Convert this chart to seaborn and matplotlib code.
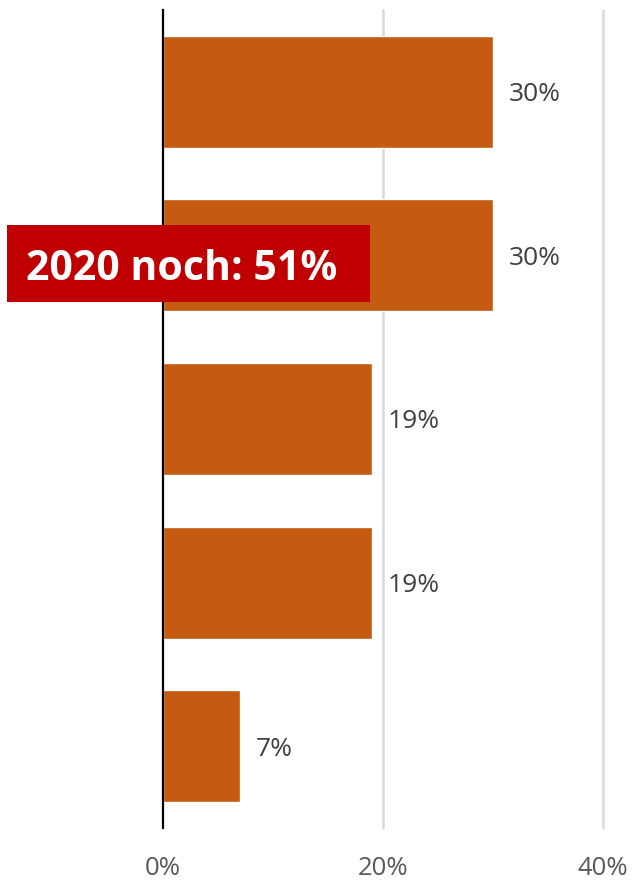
import matplotlib
matplotlib.use("Agg")
import matplotlib.pyplot as plt
import pandas as pd
import seaborn as sns
from matplotlib.patches import Rectangle

CATEGORIES = ["Kat 1", "Kat 2", "Kat 3", "Kat 4", "Kat 5"]
VALUES = [30, 30, 19, 19, 7]
LABELS = ["30%", "30%", "19%", "19%", "7%"]
X_TICKS = [0, 20, 40]
X_TICK_LABELS = ["0%", "20%", "40%"]
CALLOUT = "2020 noch: 51%"

BAR_COLOR = "#C55A11"
W, H = 634, 880

sns.set_theme(style="white")
plt.rcParams["font.family"] = ["Open Sans", "DejaVu Sans"]

data = pd.DataFrame({"cat": CATEGORIES, "value": VALUES})

fig = plt.figure(figsize=(W / 100, H / 100), dpi=100)
ax = fig.add_axes([163 / W, 1 - 828 / H, (603 - 163) / W, (828 - 10) / H])

sns.barplot(data=data, x="value", y="cat", orient="h", color=BAR_COLOR,
            saturation=1, width=0.685, ax=ax)

ax.set_xlim(0, 40)
ax.set_ylim(4.5, -0.5)
ax.set_xticks(X_TICKS)
ax.set_xticklabels(X_TICK_LABELS, fontsize=18.5, color="#595959")
ax.tick_params(axis="x", length=0, pad=20)
ax.set_yticks([])
ax.set_xlabel("")
ax.set_ylabel("")
for s in ["top", "right", "bottom"]:
    ax.spines[s].set_visible(False)
ax.spines["left"].set_color("black")
ax.spines["left"].set_linewidth(1.6)
ax.spines["left"].set_zorder(5)
for t in X_TICKS[1:]:
    ax.axvline(t, color="#D9D9D9", lw=1.8, zorder=0, clip_on=False)
ax.set_axisbelow(True)

for i, (v, lab) in enumerate(zip(VALUES, LABELS)):
    ax.text(v + 1.45, i, lab, va="center_baseline", ha="left", fontsize=19,
            color="#404040")

# callout box
fig.patches.append(Rectangle((7 / W, 1 - 302 / H), (370 - 7) / W, (302 - 225) / H,
                             transform=fig.transFigure, facecolor="#C00000",
                             edgecolor="none", zorder=10))
fig.text(26 / W, 1 - 265 / H, CALLOUT, color="white", fontsize=29.5,
         fontweight="bold", va="center_baseline", ha="left", zorder=11)

fig.savefig("out.png", dpi=100)
